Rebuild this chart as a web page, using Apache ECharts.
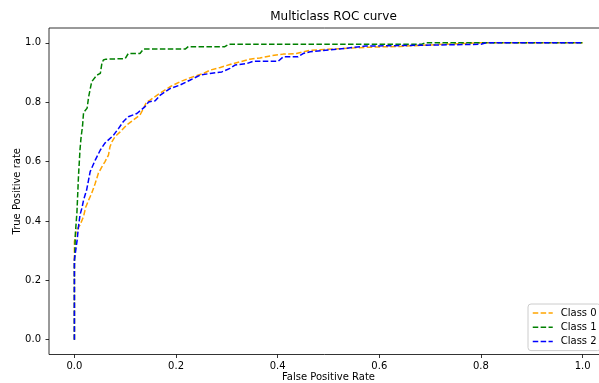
<!DOCTYPE html>
<html><head><meta charset="utf-8">
<script src="https://cdn.jsdelivr.net/npm/echarts@6/dist/echarts.min.js"></script>
<style>html,body{margin:0;padding:0;background:#fff}#c{width:599px;height:383px}</style>
</head><body><div id="c"></div>
<script>
const classNames = ['Class 0', 'Class 1', 'Class 2'];
const classColors = ['#FFA500', '#008000', '#0000FF'];
const tickValues = [0, 0.2, 0.4, 0.6, 0.8, 1.0];

const fpr0 = [0, 0, 0.004, 0.011, 0.018, 0.022, 0.028, 0.034, 0.041, 0.047, 0.054, 0.06, 0.067, 0.07, 0.074, 0.08, 0.09, 0.103, 0.116, 0.129, 0.136, 0.142, 0.149, 0.168, 0.188, 0.208, 0.227, 0.254, 0.267, 0.287, 0.306, 0.326, 0.345, 0.365, 0.385, 0.411, 0.437, 0.464, 0.52, 0.575, 0.64, 0.725, 0.8, 1];
const tpr0 = [0, 0.33, 0.37, 0.386, 0.415, 0.445, 0.47, 0.493, 0.527, 0.56, 0.582, 0.599, 0.622, 0.65, 0.667, 0.684, 0.70, 0.723, 0.74, 0.757, 0.779, 0.801, 0.807, 0.83, 0.852, 0.869, 0.882, 0.897, 0.908, 0.917, 0.927, 0.936, 0.945, 0.949, 0.956, 0.962, 0.964, 0.975, 0.98, 0.985, 0.988, 0.995, 1.0, 1.0];

const fpr1 = [0, 0, 0.002, 0.005, 0.008, 0.011, 0.013, 0.016, 0.018, 0.025, 0.028, 0.034, 0.044, 0.051, 0.054, 0.057, 0.062, 0.1, 0.106, 0.129, 0.136, 0.218, 0.224, 0.296, 0.304, 0.683, 0.69, 1];
const tpr1 = [0, 0.25, 0.36, 0.43, 0.55, 0.64, 0.68, 0.72, 0.765, 0.78, 0.818, 0.869, 0.891, 0.897, 0.93, 0.942, 0.945, 0.947, 0.964, 0.964, 0.979, 0.979, 0.987, 0.987, 0.995, 0.995, 1.0, 1.0];

const fpr2 = [0, 0, 0.005, 0.008, 0.011, 0.015, 0.018, 0.024, 0.031, 0.041, 0.051, 0.06, 0.077, 0.087, 0.096, 0.106, 0.123, 0.139, 0.146, 0.159, 0.169, 0.188, 0.208, 0.227, 0.247, 0.267, 0.29, 0.306, 0.316, 0.339, 0.352, 0.401, 0.411, 0.44, 0.45, 0.464, 0.532, 0.572, 0.72, 0.8, 0.81, 1];
const tpr2 = [0, 0.27, 0.33, 0.38, 0.42, 0.445, 0.47, 0.504, 0.566, 0.605, 0.639, 0.662, 0.689, 0.712, 0.734, 0.751, 0.762, 0.785, 0.801, 0.805, 0.824, 0.846, 0.858, 0.874, 0.891, 0.897, 0.902, 0.914, 0.925, 0.93, 0.938, 0.938, 0.953, 0.953, 0.964, 0.97, 0.981, 0.989, 0.993, 0.995, 1.0, 1.0];

const fprs = [fpr0, fpr1, fpr2];
const tprs = [tpr0, tpr1, tpr2];

const FONT = 'DejaVu Sans';
const chart = echarts.init(document.getElementById('c'), null, {renderer: 'canvas'});
const axisCommon = {
  type: 'value', min: -0.05, max: 1.05,
  axisLine: {show: false, onZero: false},
  splitLine: {show: false},
  axisTick: {show: true, customValues: tickValues, length: 3.5, lineStyle: {color: '#000', width: 0.8}},
  axisLabel: {customValues: tickValues, color: '#000', fontFamily: FONT, fontSize: 10,
              formatter: v => v.toFixed(1)},
  nameLocation: 'middle',
  nameMoveOverlap: false,
  nameTextStyle: {color: '#000', fontFamily: FONT, fontSize: 10}
};
chart.setOption({
  animation: false,
  title: {text: 'Multiclass ROC curve', left: 328.5, top: 6, textAlign: 'center',
          textStyle: {color: '#000', fontFamily: FONT, fontSize: 12, fontWeight: 'normal'}},
  grid: {left: 49, top: 28, width: 559, height: 326.5, show: true, outerBoundsMode: 'none', containLabel: false,
         borderColor: '#000', borderWidth: 0.8, backgroundColor: 'transparent'},
  xAxis: Object.assign({}, axisCommon, {name: 'False Positive Rate', nameGap: 18,
    axisLabel: Object.assign({}, axisCommon.axisLabel, {margin: 7})}),
  yAxis: Object.assign({}, axisCommon, {name: 'True Positive rate', nameGap: 27,
    axisLabel: Object.assign({}, axisCommon.axisLabel, {margin: 8})}),
  legend: {
    orient: 'vertical', left: 528, top: 304,
    padding: [3, 4, 3, 4], itemWidth: 20, itemHeight: 12, itemGap: 2.3,
    borderColor: '#cccccc', borderWidth: 1, borderRadius: 3, backgroundColor: 'rgba(255,255,255,0.8)',
    itemStyle: {opacity: 0},
    lineStyle: {width: 1.5, type: [5.5, 2.4]},
    textStyle: {color: '#000', fontFamily: FONT, fontSize: 10, lineHeight: 12, padding: [0, 0, 0, 3]},
    data: classNames
  },
  series: classNames.map((name, k) => ({
    name: name, type: 'line', symbol: 'none', showSymbol: false,
    data: fprs[k].map((x, i) => [x, tprs[k][i]]),
    lineStyle: {color: classColors[k], width: 1.5, type: [5.5, 2.4]},
    itemStyle: {color: classColors[k]},
    emphasis: {disabled: true}
  }))
});
</script></body></html>
